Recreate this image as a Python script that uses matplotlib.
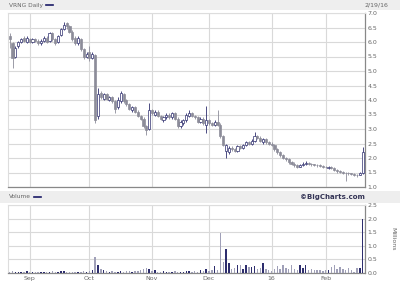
import numpy as np
import pandas as pd
import matplotlib
matplotlib.use('Agg')
import matplotlib.pyplot as plt
from matplotlib.patches import Rectangle
from matplotlib.lines import Line2D

# trading days 2015-08-21 .. 2016-02-19
holidays = ['2015-09-07', '2015-11-26', '2015-12-25', '2016-01-01', '2016-01-18', '2016-02-15']
dates = pd.bdate_range('2015-08-21', '2016-02-19')
dates = dates[~dates.isin(pd.to_datetime(holidays))]

opens = [6.20, 5.95, 5.50, 5.85, 6.00, 6.15, 6.00, 6.10, 6.00, 6.10,
         6.05, 5.95, 6.05, 6.15, 6.05, 6.30, 6.10, 6.00, 6.25, 6.45,
         6.65, 6.55, 6.35, 6.15, 5.95, 6.10, 5.75, 5.50, 5.65, 5.45,
         5.55, 3.45, 4.25, 4.05, 4.20, 4.00, 4.10, 3.95, 3.75, 3.95,
         4.20, 4.00, 3.85, 3.65, 3.75, 3.60, 3.45, 3.35, 3.10, 3.00,
         3.65, 3.50, 3.60, 3.45, 3.30, 3.40, 3.50, 3.40, 3.55, 3.35,
         3.10, 3.20, 3.30, 3.45, 3.55, 3.45, 3.40, 3.25, 3.35, 3.15,
         3.30, 3.20, 3.15, 3.25, 3.15, 2.75, 2.25, 2.20, 2.35, 2.30,
         2.25, 2.40, 2.35, 2.45, 2.55, 2.50, 2.60, 2.75, 2.70, 2.55,
         2.65, 2.55, 2.50, 2.45, 2.30, 2.20, 2.10, 2.00, 1.95, 1.85,
         1.80, 1.75, 1.70, 1.75, 1.80, 1.82, 1.80, 1.78, 1.76, 1.75,
         1.73, 1.70, 1.66, 1.70, 1.66, 1.60, 1.55, 1.52, 1.50, 1.48,
         1.47, 1.45, 1.42, 1.42, 1.50]
closes = [6.10, 5.45, 5.80, 6.00, 6.10, 6.05, 6.15, 6.00, 6.10, 6.05,
          5.95, 6.05, 6.15, 6.00, 6.30, 6.10, 5.95, 6.20, 6.45, 6.60,
          6.55, 6.35, 6.10, 5.95, 6.15, 5.75, 5.50, 5.60, 5.45, 5.60,
          3.30, 4.20, 4.10, 4.20, 4.05, 4.10, 3.95, 3.70, 4.00, 4.25,
          3.95, 3.85, 3.70, 3.75, 3.60, 3.45, 3.35, 3.10, 2.95, 3.65,
          3.55, 3.60, 3.45, 3.35, 3.40, 3.50, 3.40, 3.55, 3.35, 3.10,
          3.25, 3.30, 3.50, 3.55, 3.45, 3.40, 3.25, 3.35, 3.20, 3.30,
          3.20, 3.15, 3.25, 3.15, 2.75, 2.45, 2.45, 2.35, 2.30, 2.25,
          2.40, 2.35, 2.45, 2.55, 2.50, 2.60, 2.75, 2.70, 2.60, 2.65,
          2.55, 2.50, 2.45, 2.30, 2.20, 2.10, 2.00, 1.95, 1.85, 1.80,
          1.75, 1.70, 1.75, 1.80, 1.82, 1.80, 1.78, 1.76, 1.75, 1.73,
          1.70, 1.68, 1.70, 1.66, 1.60, 1.55, 1.52, 1.50, 1.48, 1.47,
          1.45, 1.42, 1.40, 1.48, 2.20]
highs = [6.30, 6.00, 5.85, 6.05, 6.15, 6.20, 6.20, 6.15, 6.15, 6.15,
         6.10, 6.10, 6.20, 6.20, 6.35, 6.35, 6.15, 6.25, 6.50, 6.70,
         6.70, 6.60, 6.40, 6.20, 6.20, 6.15, 5.80, 5.65, 5.85, 5.65,
         5.60, 4.40, 4.30, 4.25, 4.25, 4.15, 4.15, 4.00, 4.10, 4.30,
         4.25, 4.05, 3.90, 3.80, 3.80, 3.65, 3.50, 3.40, 3.15, 3.90,
         3.70, 3.65, 3.65, 3.50, 3.45, 3.55, 3.55, 3.60, 3.60, 3.40,
         3.30, 3.35, 3.55, 3.65, 3.60, 3.50, 3.45, 3.40, 3.40, 3.80,
         3.35, 3.25, 3.30, 3.65, 3.20, 2.80, 2.50, 2.40, 2.40, 2.35,
         2.45, 2.45, 2.50, 2.60, 2.60, 2.65, 2.90, 2.80, 2.75, 2.70,
         2.70, 2.60, 2.55, 2.50, 2.35, 2.25, 2.15, 2.05, 2.00, 1.90,
         1.85, 1.80, 1.80, 1.85, 1.88, 1.86, 1.83, 1.80, 1.80, 1.78,
         1.76, 1.74, 1.72, 1.72, 1.68, 1.62, 1.58, 1.55, 1.53, 1.52,
         1.50, 1.48, 1.46, 1.52, 2.38]
lows = [5.80, 5.10, 5.45, 5.80, 5.95, 6.00, 5.95, 5.95, 5.95, 6.00,
        5.90, 5.90, 6.00, 5.95, 6.00, 6.05, 5.90, 5.95, 6.20, 6.40,
        6.45, 6.30, 6.05, 5.90, 5.90, 5.70, 5.40, 5.45, 5.35, 5.40,
        3.20, 3.35, 4.05, 4.00, 4.00, 3.95, 3.90, 3.55, 3.70, 3.90,
        3.90, 3.80, 3.65, 3.60, 3.55, 3.40, 3.30, 3.05, 2.80, 2.95,
        3.50, 3.45, 3.40, 3.30, 3.25, 3.35, 3.35, 3.35, 3.30, 3.05,
        3.05, 3.15, 3.25, 3.40, 3.40, 3.35, 3.20, 3.20, 3.15, 2.85,
        3.15, 3.10, 3.10, 3.10, 2.70, 2.40, 2.00, 2.15, 2.25, 2.20,
        2.20, 2.30, 2.30, 2.40, 2.45, 2.45, 2.55, 2.65, 2.55, 2.50,
        2.50, 2.45, 2.40, 2.25, 2.15, 2.05, 1.95, 1.90, 1.80, 1.75,
        1.70, 1.65, 1.68, 1.72, 1.76, 1.75, 1.74, 1.72, 1.70, 1.68,
        1.66, 1.64, 1.62, 1.62, 1.55, 1.50, 1.48, 1.46, 1.20, 1.43,
        1.40, 1.38, 1.36, 1.40, 1.45]
volume = [0.05, 0.06, 0.04, 0.05, 0.03, 0.04, 0.06, 0.03, 0.02, 0.03,
          0.04, 0.03, 0.04, 0.05, 0.03, 0.06, 0.04, 0.05, 0.08, 0.06,
          0.04, 0.05, 0.03, 0.04, 0.05, 0.04, 0.06, 0.05, 0.08, 0.10,
          0.60, 0.30, 0.15, 0.10, 0.08, 0.05, 0.06, 0.04, 0.05, 0.08,
          0.05, 0.06, 0.08, 0.05, 0.06, 0.08, 0.12, 0.15, 0.18, 0.14,
          0.06, 0.10, 0.05, 0.04, 0.06, 0.05, 0.04, 0.05, 0.06, 0.04,
          0.05, 0.04, 0.06, 0.08, 0.05, 0.06, 0.05, 0.10, 0.06, 0.15,
          0.08, 0.12, 0.25, 0.10, 1.48, 0.42, 0.88, 0.38, 0.15, 0.18,
          0.28, 0.28, 0.15, 0.30, 0.22, 0.22, 0.25, 0.15, 0.18, 0.35,
          0.15, 0.10, 0.08, 0.15, 0.25, 0.15, 0.30, 0.20, 0.15, 0.30,
          0.15, 0.10, 0.28, 0.20, 0.30, 0.10, 0.15, 0.10, 0.10, 0.10,
          0.08, 0.10, 0.12, 0.22, 0.30, 0.15, 0.22, 0.15, 0.12, 0.20,
          0.10, 0.05, 0.18, 0.20, 2.00]
month_labels = ['Sep', 'Oct', 'Nov', 'Dec', '16', 'Feb']
price_ticks = [1.0, 1.5, 2.0, 2.5, 3.0, 3.5, 4.0, 4.5, 5.0, 5.5, 6.0, 6.5, 7.0]
vol_ticks = [0.0, 0.5, 1.0, 1.5, 2.0, 2.5]

UP = '#2e2e6e'
DOWN = '#8c8c99'
GRID = '#d9d9d9'
TXT = '#666666'

W, H = 400, 284


def px(x, y):
    # pixel coords (from top-left) -> figure fraction
    return x / W, 1 - y / H


o = np.array(opens)
c = np.array(closes)
hi = np.array(highs)
lo = np.array(lows)
v = np.array(volume)
x = np.arange(len(dates))
up = c >= o

# first trading day of each month after the start
mstart = [i for i in range(1, len(dates)) if dates[i].month != dates[i - 1].month]

fig = plt.figure(figsize=(W / 100, H / 100), dpi=100)
fig.patch.set_facecolor('white')

# header bands
fig.patches.append(Rectangle(px(0, 10), 1, 10 / H, transform=fig.transFigure,
                             facecolor='#eeeeee', edgecolor='none', zorder=0))
fig.patches.append(Rectangle(px(0, 203), 1, 12 / H, transform=fig.transFigure,
                             facecolor='#eeeeee', edgecolor='none', zorder=0))

ax = fig.add_axes([8 / W, 1 - 187 / H, 357 / W, 174 / H])
axv = fig.add_axes([8 / W, 1 - 273 / H, 357 / W, 68 / H])

for a in (ax, axv):
    a.set_xlim(-0.6, len(dates) - 0.2)
    a.set_xticks(mstart)
    a.grid(True, color=GRID, lw=0.8)
    a.set_axisbelow(True)
    a.yaxis.tick_right()
    a.tick_params(length=0, labelsize=4.5, labelcolor=TXT, pad=2)
    for s in ('top', 'left'):
        a.spines[s].set_color('#dddddd')
        a.spines[s].set_linewidth(0.8)
    for s in ('right', 'bottom'):
        a.spines[s].set_color('#888888')
        a.spines[s].set_linewidth(0.9)

# candles
body_w = 0.75
ax.vlines(x[up], lo[up], hi[up], color=UP, lw=0.6, zorder=2)
ax.vlines(x[~up], lo[~up], hi[~up], color=DOWN, lw=0.6, zorder=2)
bot = np.minimum(o, c)
hgt = np.maximum(np.abs(c - o), 0.02)
ax.bar(x[up], hgt[up], bottom=bot[up], width=body_w, facecolor='white',
       edgecolor=UP, lw=0.5, zorder=3)
ax.bar(x[~up], hgt[~up], bottom=bot[~up], width=body_w, facecolor=DOWN,
       edgecolor=DOWN, lw=0.5, zorder=3)
ax.set_ylim(1.0, 7.0)
ax.set_yticks(price_ticks)
ax.set_yticklabels(['%.1f' % t for t in price_ticks])
ax.set_xticklabels([])

# volume
axv.bar(x, v, width=0.5, color=np.where(up, UP, '#a0a0b8'), zorder=3)
axv.set_ylim(0, 2.5)
axv.set_yticks(vol_ticks)
axv.set_yticklabels(['%.1f' % t for t in vol_ticks])
axv.set_xticklabels(month_labels)

# texts
fig.text(*px(9, 5), 'VRNG Daily', fontsize=4.2, color=TXT, va='center', ha='left')
fig.lines.append(Line2D([46 / W, 53 / W], [1 - 5 / H, 1 - 5 / H], transform=fig.transFigure,
                        color='#1a1a66', lw=1.2))
fig.text(*px(388, 5), '2/19/16', fontsize=4.5, color=TXT, va='center', ha='right')
fig.text(*px(9, 197), 'Volume', fontsize=4.2, color=TXT, va='center', ha='left')
fig.lines.append(Line2D([34 / W, 41 / W], [1 - 197 / H, 1 - 197 / H], transform=fig.transFigure,
                        color='#1a1a66', lw=1.2))
fig.text(*px(365, 197), '©BigCharts.com', fontsize=5, color='#333355', fontweight='bold',
         va='center', ha='right')
fig.text(*px(393, 239), 'Millions', fontsize=4.5, color=TXT, va='center', ha='center',
         rotation=270)

fig.savefig('out.png', dpi=100)
